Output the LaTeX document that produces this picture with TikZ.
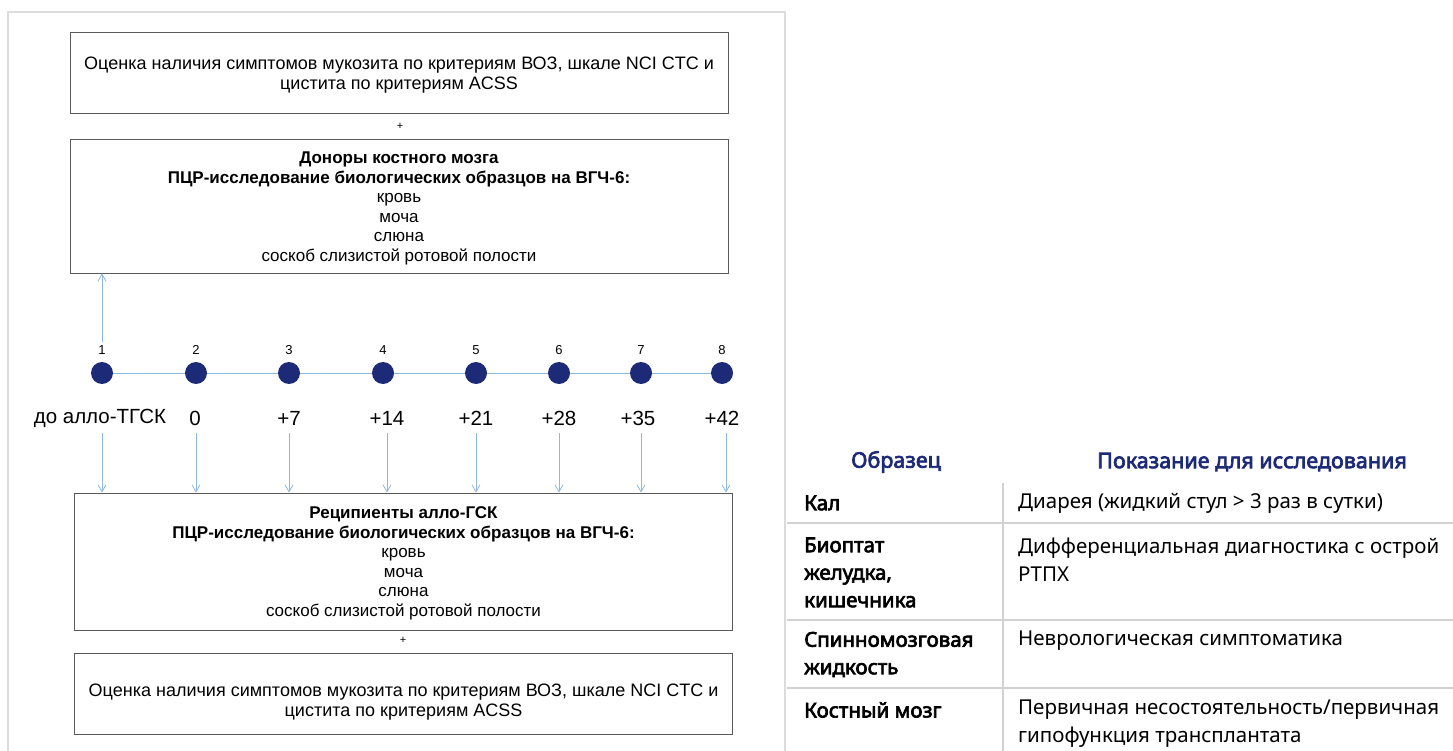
\documentclass[tikz,border=0pt]{standalone}
\usepackage{fontspec}
\setmainfont{Liberation Sans}
\newfontfamily\tablefont{Noto Sans}
\newfontfamily\tableboldfont[FakeBold=3.2]{Noto Sans}
\usetikzlibrary{arrows.meta}
\definecolor{navy}{HTML}{1C2A78}
\definecolor{lineblue}{HTML}{8FB6DC}
\definecolor{framegray}{HTML}{DCDCDC}
\definecolor{rulegray}{HTML}{D2D2D2}
\definecolor{boxgray}{HTML}{5A5A5A}

\begin{document}
\begin{tikzpicture}[x=1pt,y=-1pt,
  box/.style={draw=boxgray, line width=0.8pt, minimum width=658pt, inner sep=0pt},
  boxtext/.style={align=center, inner sep=0pt},
  dot/.style={circle, fill=navy, minimum size=22pt, inner sep=0pt},
  arr/.style={draw=lineblue, line width=0.8pt, -{Straight Barb[length=7pt,width=8pt]}},
  hdr/.style={font=\tableboldfont\fontsize{21.5}{24}\selectfont, text=navy},
  cell/.style={font=\tablefont\fontsize{20.5}{27.5}\selectfont, anchor=west, align=left, inner sep=0pt},
  bcell/.style={cell, font=\tableboldfont\fontsize{20.5}{27.5}\selectfont}]
\useasboundingbox (0,0) rectangle (1453,751);
% outer frame
\draw [framegray, line width=1.5pt] (8,751) -- (8,12) -- (785,12) -- (785,751);

% boxes
\node [box, minimum height=81pt] (evalA) at (399,72.5) {};
\node [boxtext, font=\fontsize{18}{20}\selectfont] (evalAtxt) at ([yshift=-3pt]evalA.center)
  {Оценка наличия симптомов мукозита по критериям ВОЗ, шкале NCI CTC и\\цистита по критериям ACSS};
\node [font=\fontsize{11}{11}\selectfont] (plusA) at (400,126) {+};
\node [box, minimum height=134pt] (donor) at (399,206) {};
\node [boxtext, font=\fontsize{17}{19.5}\selectfont] (donortxt) at ([yshift=-2.5pt]donor.center)
  {\textbf{Доноры костного мозга}\\\textbf{ПЦР-исследование биологических образцов на ВГЧ-6:}\\кровь\\моча\\слюна\\соскоб слизистой ротовой полости};
\node [box, minimum height=137pt] (recip) at (403.5,561.5) {};
\node [boxtext, font=\fontsize{17}{19.5}\selectfont] (reciptxt) at ([yshift=-2pt]recip.center)
  {\textbf{Реципиенты алло-ГСК}\\\textbf{ПЦР-исследование биологических образцов на ВГЧ-6:}\\кровь\\моча\\слюна\\соскоб слизистой ротовой полости};
\node [font=\fontsize{11}{11}\selectfont] (plusB) at (403,640) {+};
\node [box, minimum height=81pt] (evalB) at (403.5,693.5) {};
\node [boxtext, font=\fontsize{18}{20}\selectfont] (evalBtxt) at ([yshift=-8.5pt]evalB.center)
  {Оценка наличия симптомов мукозита по критериям ВОЗ, шкале NCI CTC и\\цистита по критериям ACSS};

% timeline
\foreach \i/\x/\lx/\t in {1/102/100/до алло-ТГСК,2/196/195/0,3/289/289/+7,4/383/387/+14,5/476/476/+21,6/559/559/+28,7/641/638/+35,8/722/722/+42} {
  \node [dot] (d\i) at (\x,373) {};
  \node [font=\fontsize{13}{14}\selectfont] (n\i) at (\x,350) {\i};
  \node [font=\fontsize{20.5}{22}\selectfont, inner sep=2pt] (lab\i) at (\lx,418) {\t};
}
\foreach \i/\j in {1/2,2/3,3/4,4/5,5/6,6/7,7/8}
  \draw [lineblue, line width=1pt] (d\i) -- (d\j);
\foreach \i/\x in {1/102,2/196,3/289,4/387,5/476,6/559,7/641,8/726}
  \draw [arr] (\x,433) -- (\x,0 |- recip.north);
\draw [arr] (n1.north) -- (n1.north |- donor.south);

% table
\node [hdr] (hs) at (896,462) {Образец};
\node [hdr] (hi) at (1252,462) {Показание для исследования};
\draw [rulegray, line width=1.2pt] (1003,483) -- (1003,751);
\foreach \y in {523,620,688}
  \draw [rulegray, line width=2pt] (787,\y) -- (1453,\y);
\node [bcell] (s1) at (804,503) {Кал};
\node [cell] (i1) at (1018,503) {Диарея (жидкий стул > 3 раз в сутки)};
\node [bcell] (s2) at (804,572.5) {Биоптат\\желудка,\\кишечника};
\node [cell] (i2) at (1018,559.5) {Дифференциальная диагностика с острой\\РТПХ};
\node [bcell] (s3) at (804,654.5) {Спинномозговая\\жидкость};
\node [cell] (i3) at (1018,641) {Неврологическая симптоматика};
\node [bcell] (s4) at (804,710) {Костный мозг};
\node [cell] (i4) at (1018,723.5) {Первичная несостоятельность/первичная\\гипофункция трансплантата};
\end{tikzpicture}
\end{document}
